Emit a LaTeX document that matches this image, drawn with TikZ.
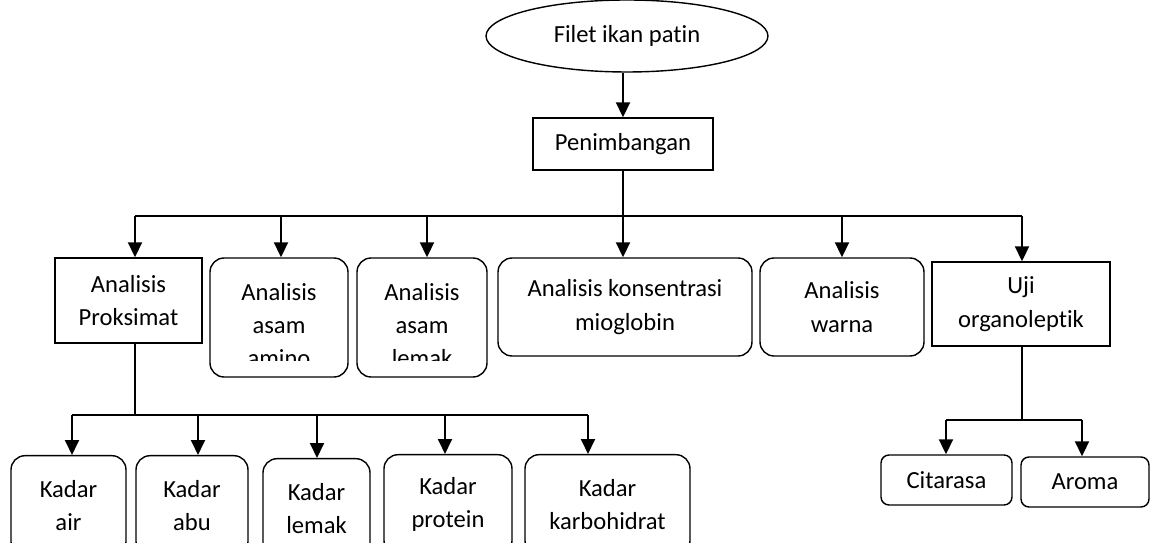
\documentclass[tikz,border=0pt]{standalone}
\usepackage{fontspec}
\setmainfont[Ligatures=NoCommon]{Carlito}
\usetikzlibrary{shapes.geometric,arrows.meta}

\begin{document}
\begin{tikzpicture}[
    x=0.02cm, y=-0.02cm,
    font=\fontsize{14pt}{19pt}\selectfont,
    box/.style={draw, line width=0.8pt, align=center, inner sep=0pt},
    rbox/.style={box, rounded corners=0.28cm},
    sbox/.style={box, rounded corners=0.16cm},
    line/.style={line width=1.1pt},
    arr/.style={line, -{Triangle[length=0.3cm, width=0.28cm]}}
]
    % Page frame (1 unit = 1 pixel of the reference)
    \useasboundingbox (0,0) rectangle (1150,543);
    \clip (0,0) rectangle (1150,543);

    % Start and weighing
    \node[box, ellipse, minimum width=5.64cm, minimum height=1.44cm] (fish) at (627,36) {Filet ikan patin};
    \node[box, minimum width=3.6cm, minimum height=1.04cm] (pen) at (623,144) {Penimbangan};

    % Analyses (first level)
    \node[box, minimum width=2.94cm, minimum height=1.7cm] (prok) at (128.5,300.5) {Analisis\\Proksimat};
    \node[rbox, minimum width=2.76cm, minimum height=2.38cm] (amino) at (279,317.5) {};
    \node[rbox, minimum width=2.6cm, minimum height=2.38cm] (lemak) at (422,317.5) {};
    \node[rbox, minimum width=5.08cm, minimum height=1.96cm] (kons) at (625,307) {Analisis konsentrasi\\mioglobin};
    \node[rbox, minimum width=3.28cm, minimum height=1.96cm] (warna) at (842,307) {Analisis\\warna};
    \node[box, minimum width=3.56cm, minimum height=1.68cm] (uji) at (1021,304) {Uji\\organoleptik};

    % Texts of the two tall boxes, cut at the bottom line
    \begin{scope}
        \clip (amino.south west |- 0,361) rectangle (lemak.north east);
        \node[align=center] (aminotxt) at (279,325) {Analisis\\asam\\amino};
        \node[align=center] (lemaktxt) at (422,325) {Analisis\\asam\\lemak};
    \end{scope}

    % Proximate contents
    \node[rbox, anchor=north, minimum width=2.3cm, minimum height=2cm] (air) at (68.5,455) {Kadar\\air};
    \node[rbox, anchor=north, minimum width=2.24cm, minimum height=2cm] (abu) at (192,455) {Kadar\\abu};
    \node[rbox, anchor=north, minimum width=2.14cm, minimum height=2cm] (klemak) at (316.5,458) {Kadar\\lemak};
    \node[rbox, anchor=north, minimum width=2.56cm, minimum height=2cm] (protein) at (448,454) {Kadar\\protein};
    \node[rbox, anchor=north, minimum width=3.3cm, minimum height=2cm] (karbo) at (607.5,454) {Kadar\\karbohidrat};

    % Sensory attributes
    \node[sbox, minimum width=2.62cm, minimum height=1cm] (cita) at (946.5,480) {Citarasa};
    \node[sbox, minimum width=2.56cm, minimum height=1cm] (aroma) at (1085,482) {Aroma};

    % Fish -> weighing
    \draw[arr] (pen.north |- fish.south) -- (pen.north);

    % Weighing -> analyses
    \coordinate (b1) at (135,216);
    \coordinate (b2) at (281,216);
    \coordinate (b3) at (427,216);
    \coordinate (b4) at (623,216);
    \coordinate (b5) at (842,216);
    \coordinate (b6) at (1022,216);
    \draw[line] (pen.south) -- (pen.south |- b1);
    \draw[line] (b1) -- (b6);
    \draw[arr] (b1) -- (b1 |- prok.north);
    \draw[arr] (b2) -- (b2 |- amino.north);
    \draw[arr] (b3) -- (b3 |- lemak.north);
    \draw[arr] (b4) -- (b4 |- kons.north);
    \draw[arr] (b5) -- (b5 |- warna.north);
    \draw[arr] (b6) -- (b6 |- uji.north);

    % Proksimat -> contents
    \coordinate (p0) at (135,415);
    \coordinate (p1) at (72,415);
    \coordinate (p2) at (198,415);
    \coordinate (p3) at (317,415);
    \coordinate (p4) at (445,415);
    \coordinate (p5) at (588,415);
    \draw[line] (p0 |- prok.south) -- (p0);
    \draw[line] (p1) -- (p5);
    \draw[arr] (p1) -- (p1 |- air.north);
    \draw[arr] (p2) -- (p2 |- abu.north);
    \draw[arr] (p3) -- (p3 |- klemak.north);
    \draw[arr] (p4) -- (p4 |- protein.north);
    \draw[arr] (p5) -- (p5 |- karbo.north);

    % Organoleptik -> attributes
    \coordinate (u0) at (1022,420);
    \coordinate (u1) at (946,420);
    \coordinate (u2) at (1082,420);
    \draw[line] (u0 |- uji.south) -- (u0);
    \draw[line] (u1) -- (u2);
    \draw[arr] (u1) -- (u1 |- cita.north);
    \draw[arr] (u2) -- (u2 |- aroma.north);
\end{tikzpicture}
\end{document}
